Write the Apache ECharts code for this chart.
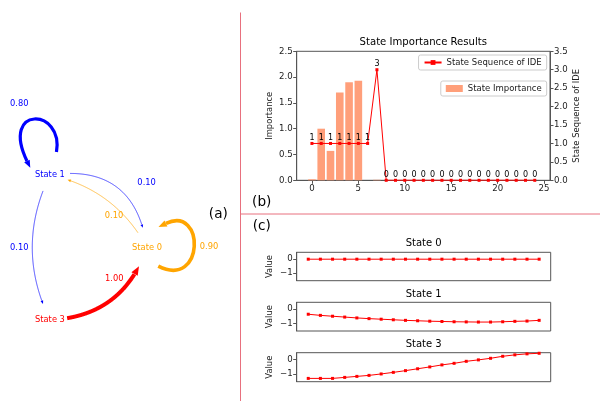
<!DOCTYPE html>
<html><head><meta charset="utf-8">
<script src="https://cdn.jsdelivr.net/npm/echarts@6/dist/echarts.min.js"></script>
<style>html,body{margin:0;padding:0;background:#fff}#c{width:600px;height:401px}</style>
</head><body><div id="c"></div>
<script>
// ---------- (a) transition graph ----------
const nodeNames = ['State 0', 'State 1', 'State 3'];
const nodeX = [1, 0, 0];
const nodeY = [0, 0.5, -0.5];
const edgeSrc = [1, 1, 1, 0, 0, 2];
const edgeDst = [1, 0, 2, 0, 1, 0];
const edgeWeight = [0.80, 0.10, 0.10, 0.90, 0.10, 1.00];

// ---------- (b) state importance ----------
const stepIndex = [0, 1, 2, 3, 4, 5, 6, 7, 8, 9, 10, 11, 12, 13, 14, 15, 16, 17, 18, 19, 20, 21, 22, 23, 24];
const importance = [0.02, 1.00, 0.57, 1.70, 1.90, 1.93, 0.00, 0.01, 0, 0, 0, 0, 0, 0, 0, 0, 0, 0, 0, 0, 0, 0, 0, 0, 0];
const stateSeq = [1, 1, 1, 1, 1, 1, 1, 3, 0, 0, 0, 0, 0, 0, 0, 0, 0, 0, 0, 0, 0, 0, 0, 0, 0];
const xTicks = [0, 5, 10, 15, 20, 25];

// ---------- (c) state values ----------
const tIndex = [0, 1, 2, 3, 4, 5, 6, 7, 8, 9, 10, 11, 12, 13, 14, 15, 16, 17, 18, 19];
const state0Vals = [0, 0, 0, 0, 0, 0, 0, 0, 0, 0, 0, 0, 0, 0, 0, 0, 0, 0, 0, 0];
const state1Vals = [-0.35, -0.43, -0.49, -0.55, -0.61, -0.66, -0.70, -0.74, -0.78, -0.81, -0.84, -0.86, -0.88, -0.89, -0.90, -0.90, -0.88, -0.85, -0.83, -0.78];
const state3Vals = [-1.30, -1.30, -1.30, -1.23, -1.16, -1.09, -0.99, -0.88, -0.76, -0.63, -0.50, -0.36, -0.25, -0.11, -0.01, 0.10, 0.24, 0.34, 0.41, 0.45];
const valueTicks = [-1, 0];
const panelTitles = ['State 0', 'State 1', 'State 3'];

// ---------- styling ----------
const FONT = 'DejaVu Sans';
const nodeColor = ['#ffa500', '#0000ff', '#ff0000'];
const edgeLook = [
  {loop: [[6.5, -23], [14, -67], [-50, -70], [-23, -14]], label: [-30.7, -70.7]},
  {curv: -0.5, shrinkA: 20, shrinkB: 20, label: [30, -3.7]},
  {curv: 0.244, shrinkA: 17, shrinkB: 17, label: [-13, 0.2]},
  {loop: [[11.3, 18.7], [58, 42], [58, -43], [19, -24]], label: [62, -0.7]},
  {curv: 0.23, shrinkA: 17, shrinkB: 18, label: [7.2, 15.9]},
  {curv: 0.34, shrinkA: 17, shrinkB: 20, label: [3.5, -21.2]}
];
const axisCol = '#555';
const txtCol = '#222';

function arrowPoly(tip, ux, uy, al, aw) {
  const bx = tip[0] - ux * al, by = tip[1] - uy * al;
  const px = -uy * aw / 2, py = ux * aw / 2;
  return [[tip[0], tip[1]], [bx + px, by + py], [bx - px, by - py]];
}

function renderEdge(params, api) {
  const i = params.dataIndex;
  const s = api.value(0), d = api.value(1), w = api.value(2);
  const look = edgeLook[i];
  const color = nodeColor[s];
  const lw = Math.max(0.7, w * 4);
  const al = 2.2 + lw * 1.7, aw = al * 0.8;
  const P = api.coord([nodeX[s], nodeY[s]]);
  const children = [];
  let labelPos;
  if (s === d) {
    const L = look.loop.map(o => [P[0] + o[0], P[1] + o[1]]);
    children.push({type: 'bezierCurve', shape: {x1: L[0][0], y1: L[0][1], cpx1: L[1][0], cpy1: L[1][1], cpx2: L[2][0], cpy2: L[2][1], x2: L[3][0], y2: L[3][1]},
      style: {stroke: color, lineWidth: lw, fill: null}});
    let ux = L[3][0] - L[2][0], uy = L[3][1] - L[2][1];
    const n = Math.hypot(ux, uy); ux /= n; uy /= n;
    const tip = [L[3][0] + ux * al, L[3][1] + uy * al];
    children.push({type: 'polygon', shape: {points: arrowPoly(tip, ux, uy, al, aw)}, style: {fill: color}});
    labelPos = [P[0] + look.label[0], P[1] + look.label[1]];
  } else {
    const Q = api.coord([nodeX[d], nodeY[d]]);
    const dx = Q[0] - P[0], dy = Q[1] - P[1];
    const C = [(P[0] + Q[0]) / 2 - look.curv * dy, (P[1] + Q[1]) / 2 + look.curv * dx];
    const bz = t => [(1 - t) * (1 - t) * P[0] + 2 * (1 - t) * t * C[0] + t * t * Q[0],
                     (1 - t) * (1 - t) * P[1] + 2 * (1 - t) * t * C[1] + t * t * Q[1]];
    const dist = (a, b) => Math.hypot(a[0] - b[0], a[1] - b[1]);
    const pts = [];
    for (let k = 0; k <= 400; k++) {
      const p = bz(k / 400);
      if (dist(p, P) >= look.shrinkA && dist(p, Q) >= look.shrinkB) pts.push(p);
    }
    const tip = pts[pts.length - 1];
    let j = pts.length - 1;
    while (j > 0 && dist(pts[j], tip) < al) j--;
    const base = pts[j];
    let ux = tip[0] - base[0], uy = tip[1] - base[1];
    const n = Math.hypot(ux, uy); ux /= n; uy /= n;
    const linePts = pts.slice(0, j + 1);
    children.push({type: 'polyline', shape: {points: linePts}, style: {stroke: color, lineWidth: lw, fill: null}});
    children.push({type: 'polygon', shape: {points: arrowPoly(tip, ux, uy, al, aw)}, style: {fill: color}});
    const m = bz(0.5);
    labelPos = [m[0] + look.label[0], m[1] + look.label[1]];
  }
  children.push({type: 'text', style: {text: w.toFixed(2), x: labelPos[0], y: labelPos[1], fill: color,
    fontSize: 8.3, fontFamily: FONT, align: 'center', verticalAlign: 'middle'}});
  return {type: 'group', children: children};
}

function renderNode(params, api) {
  const i = api.value(2);
  const p = api.coord([api.value(0), api.value(1)]);
  return {type: 'text', style: {text: nodeNames[i], x: p[0], y: p[1], fill: nodeColor[i],
    fontSize: 8.3, fontFamily: FONT, align: 'center', verticalAlign: 'middle'}};
}

const chart = echarts.init(document.getElementById('c'), null, {renderer: 'canvas'});

const panelTops = [252.3, 302.3, 352.7];
const panelH = [28.4, 28.7, 29];
const panelVals = [state0Vals, state1Vals, state3Vals];

const grids = [
  {left: 0, top: 0, width: 240, height: 401},
  {left: 296.7, top: 51.3, width: 253.3, height: 129, show: true, borderColor: axisCol, borderWidth: 1, backgroundColor: 'transparent'}
];
panelTops.forEach((t, k) => grids.push({left: 296.7, top: t, width: 254, height: panelH[k], show: true, borderColor: axisCol, borderWidth: 1, backgroundColor: 'transparent'}));

const tickLbl = {fontSize: 8.6, color: txtCol, fontFamily: FONT};
const xAxes = [
  {gridIndex: 0, type: 'value', min: -0.515, max: 1.959, show: false},
  {gridIndex: 1, type: 'value', min: -1.64, max: 25.64,
    axisLine: {show: true, onZero: false, lineStyle: {color: axisCol}},
    axisTick: {show: true, customValues: xTicks, length: 3.5, lineStyle: {color: axisCol}},
    axisLabel: Object.assign({customValues: xTicks, margin: 4}, tickLbl), splitLine: {show: false}}
];
const yAxes = [
  {gridIndex: 0, type: 'value', min: -1.059, max: 1.707, show: false},
  {gridIndex: 1, type: 'value', min: 0, max: 2.5, interval: 0.5, name: 'Importance', nameLocation: 'middle', nameGap: 23,
    nameTextStyle: {fontSize: 8.4, color: txtCol, fontFamily: FONT},
    axisLine: {show: true, onZero: false, lineStyle: {color: axisCol}}, axisTick: {show: true, length: 3.5, lineStyle: {color: axisCol}},
    axisLabel: Object.assign({formatter: v => v.toFixed(1), margin: 4}, tickLbl), splitLine: {show: false}},
  {gridIndex: 1, type: 'value', position: 'right', min: 0, max: 3.5, interval: 0.5, name: 'State Sequence of IDE', nameLocation: 'middle', nameGap: 23,
    nameTextStyle: {fontSize: 8.4, color: txtCol, fontFamily: FONT},
    axisLine: {show: true, onZero: false, lineStyle: {color: axisCol}}, axisTick: {show: true, length: 3.5, lineStyle: {color: axisCol}},
    axisLabel: Object.assign({formatter: v => v.toFixed(1), margin: 4}, tickLbl), splitLine: {show: false}}
];
panelTops.forEach((t, k) => {
  xAxes.push({gridIndex: k + 2, type: 'value', min: -0.95, max: 19.95, axisLine: {show: false}, axisTick: {show: false}, axisLabel: {show: false}, splitLine: {show: false}});
  yAxes.push({gridIndex: k + 2, type: 'value', min: -1.53, max: 0.49, name: 'Value', nameLocation: 'middle', nameGap: 23,
    nameTextStyle: {fontSize: 8.4, color: txtCol, fontFamily: FONT},
    axisLine: {show: true, onZero: false, lineStyle: {color: axisCol}},
    axisTick: {show: true, customValues: valueTicks, length: 3.5, lineStyle: {color: axisCol}},
    axisLabel: Object.assign({customValues: valueTicks, margin: 4, formatter: v => v < 0 ? '\u2212' + Math.abs(v) : String(v)}, tickLbl),
    splitLine: {show: false}});
});

const series = [
  {type: 'custom', name: 'edges', xAxisIndex: 0, yAxisIndex: 0, silent: true,
    data: edgeSrc.map((s, i) => [s, edgeDst[i], edgeWeight[i]]), renderItem: renderEdge},
  {type: 'custom', name: 'nodes', xAxisIndex: 0, yAxisIndex: 0, silent: true,
    data: nodeNames.map((n, i) => [nodeX[i], nodeY[i], i]), renderItem: renderNode},
  {type: 'bar', name: 'State Importance', xAxisIndex: 1, yAxisIndex: 1, barWidth: 7.6,
    itemStyle: {color: '#ff9f7a'}, data: stepIndex.map((x, i) => [x, importance[i]])},
  {type: 'line', name: 'State Sequence of IDE', xAxisIndex: 1, yAxisIndex: 2,
    symbol: 'rect', symbolSize: 3, itemStyle: {color: '#ff0000'}, lineStyle: {color: '#ff0000', width: 1},
    label: {show: true, position: 'top', distance: 0, fontSize: 8, color: '#000', fontFamily: FONT},
    data: stepIndex.map((x, i) => [x, stateSeq[i]])}
];
panelVals.forEach((vals, k) => series.push({type: 'line', name: panelTitles[k], xAxisIndex: k + 2, yAxisIndex: k + 3,
  symbol: 'rect', symbolSize: 3, itemStyle: {color: '#ff0000'}, lineStyle: {color: '#ff0000', width: 1},
  data: tIndex.map((x, i) => [x, vals[i]])}));

const sepCol = '#e8707e';
const graphic = [
  {type: 'line', shape: {x1: 240.5, y1: 12.5, x2: 240.5, y2: 401}, style: {stroke: sepCol, lineWidth: 1}},
  {type: 'line', shape: {x1: 240, y1: 214, x2: 600, y2: 214}, style: {stroke: sepCol, lineWidth: 1}},
  {type: 'text', x: 218.3, y: 214, style: {text: '(a)', fontSize: 13.6, fontFamily: FONT, fill: '#000', align: 'center', verticalAlign: 'middle'}},
  {type: 'text', x: 261.7, y: 202.7, style: {text: '(b)', fontSize: 13.6, fontFamily: FONT, fill: '#000', align: 'center', verticalAlign: 'middle'}},
  {type: 'text', x: 261.7, y: 226.7, style: {text: '(c)', fontSize: 13.6, fontFamily: FONT, fill: '#000', align: 'center', verticalAlign: 'middle'}},
  {type: 'text', x: 423.3, y: 42.7, style: {text: 'State Importance Results', fontSize: 10.1, fontFamily: FONT, fill: '#000', align: 'center', verticalAlign: 'middle'}}
];
const titleYs = [243.3, 294, 344.3];
panelTitles.forEach((t, k) => graphic.push({type: 'text', x: 423.7, y: titleYs[k],
  style: {text: t, fontSize: 10, fontFamily: FONT, fill: '#000', align: 'center', verticalAlign: 'middle'}}));

chart.setOption({
  animation: false,
  backgroundColor: '#fff',
  grid: grids,
  xAxis: xAxes,
  yAxis: yAxes,
  legend: [
    {data: ['State Sequence of IDE'], right: 53.3, top: 55, padding: [3, 5], itemWidth: 17, itemHeight: 6, itemGap: 5,
      borderColor: '#ccc', borderWidth: 1, borderRadius: 2, textStyle: {fontSize: 8.5, color: txtCol, fontFamily: FONT}},
    {data: ['State Importance'], right: 53.3, top: 81, padding: [3, 5], itemWidth: 17, itemHeight: 7, itemGap: 5, icon: 'rect',
      borderColor: '#ccc', borderWidth: 1, borderRadius: 2, textStyle: {fontSize: 8.5, color: txtCol, fontFamily: FONT}}
  ],
  graphic: graphic,
  series: series
});
</script></body></html>
